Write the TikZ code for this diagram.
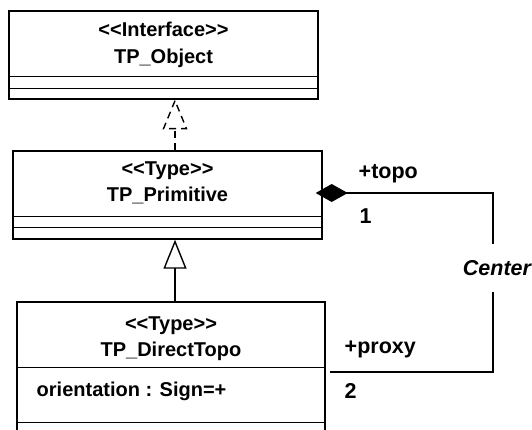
\documentclass[tikz,border=0pt]{standalone}
\usepackage{fontspec}
\setmainfont{Liberation Sans}
\usetikzlibrary{arrows.meta}

\tikzset{
  classbox/.style={draw, minimum width=309pt, inner sep=0pt},
  classtext/.style={anchor=base, inner sep=0pt, font=\fontsize{20}{24}\selectfont\bfseries},
  roletext/.style={anchor=base west, inner sep=0pt, font=\fontsize{21.5}{25}\selectfont\bfseries},
}

\begin{document}
\begin{tikzpicture}[x=1pt, y=-1pt, line width=1.4pt]
    \useasboundingbox (0,0) rectangle (532,430);
    \clip (0,0) rectangle (532,430);

    % TP_Object (top)
    \node[classbox, minimum height=88pt] (obj) at (163.5,55) {};
    \draw ([yshift=-66pt]obj.north west) -- ([yshift=-66pt]obj.north east);
    \draw ([yshift=-78pt]obj.north west) -- ([yshift=-78pt]obj.north east);
    \node[classtext] (objst) at (163.5,37) {<\kern0pt<Interface>\kern0pt>};
    \node[classtext] (objname) at (163.5,64) {TP\_Object};

    % TP_Primitive (middle)
    \node[classbox, minimum height=88pt] (prim) at (167.5,195) {};
    \draw ([yshift=-66pt]prim.north west) -- ([yshift=-66pt]prim.north east);
    \draw ([yshift=-77pt]prim.north west) -- ([yshift=-77pt]prim.north east);
    \node[classtext] (primst) at (167.5,175.5) {<\kern0pt<Type>\kern0pt>};
    \node[classtext] (primname) at (167.5,201.5) {TP\_Primitive};

    % TP_DirectTopo (bottom)
    \node[classbox, minimum width=308pt, minimum height=132pt] (topo) at (171,368) {};
    \draw ([yshift=-66pt]topo.north west) -- ([yshift=-66pt]topo.north east);
    \draw ([yshift=-121pt]topo.north west) -- ([yshift=-121pt]topo.north east);
    \node[classtext] (topost) at (171,330) {<\kern0pt<Type>\kern0pt>};
    \node[classtext] (toponame) at (171,356.5) {TP\_DirectTopo};
    \node[classtext, anchor=base west] (topoattr) at (36,396.5) {orientation : Sign=+};

    % Realization and generalization
    \coordinate (ax) at (175,0);
    \coordinate (realtip) at ([yshift=-1pt]obj.south -| ax);
    \draw[dashed, dash pattern=on 7pt off 5pt] (prim.north -| ax) -- ([yshift=-28pt]realtip);
    \draw[dashed, dash pattern=on 7pt off 5pt, line join=miter]
        (realtip) -- ++(-11.5,28) -- ++(23,0) -- cycle;
    \draw[-{Triangle[open, length=29pt, width=23pt]}] (topo.north -| ax) -- (prim.south -| ax);

    % Association Center
    \coordinate (bend1) at (493,193);
    \coordinate (bend2) at (493,372);
    \node[font=\fontsize{21.5}{25}\selectfont\bfseries\itshape, minimum height=47pt, inner sep=0pt]
        (ctr) at (497,268) {Center};
    \draw[{Diamond[length=32pt, width=18pt]}-] ([xshift=-7pt]prim.east |- bend1) -- (bend1) -- (bend1 |- ctr.north);
    \draw (bend1 |- ctr.south) -- (bend2) -- ([xshift=4pt]topo.east |- bend2);
    \node[roletext] (rtopo) at (358,178.5) {+topo};
    \node[roletext] (mtopo) at (359,223) {1};
    \node[roletext] (rproxy) at (344,353) {+proxy};
    \node[roletext] (mproxy) at (344,398) {2};
\end{tikzpicture}
\end{document}
